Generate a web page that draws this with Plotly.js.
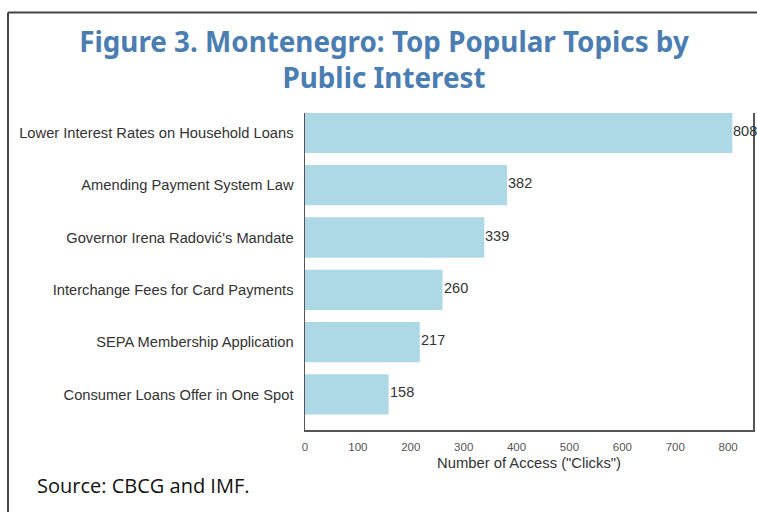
<!DOCTYPE html>
<html>
<head>
<meta charset="utf-8">
<script src="https://cdn.plot.ly/plotly-3.0.1.min.js"></script>
<style>
  html, body { margin: 0; padding: 0; background: #ffffff; }
  #chart { width: 757px; height: 512px; }
</style>
</head>
<body>
<div id="chart"></div>
<script>
// ---- data ----
const topics = [
  "Lower Interest Rates on Household Loans",
  "Amending Payment System Law",
  "Governor Irena Radović's Mandate",
  "Interchange Fees for Card Payments",
  "SEPA Membership Application",
  "Consumer Loans Offer in One Spot"
];
const clicks = [808, 382, 339, 260, 217, 158];
const xTickValues = [0, 100, 200, 300, 400, 500, 600, 700, 800];
const chartTitle = "Figure 3. Montenegro: Top Popular Topics by<br>Public Interest";
const xTitle = 'Number of Access ("Clicks")';
const sourceNote = "Source: CBCG and IMF.";

// ---- layout geometry ----
const W = 757, H = 512;
const L = 305, R = 4, T = 113, B = 82;
const pw = W - L - R, ph = H - T - B;
const px = v => (v - L) / pw;          // pixel x -> paper x
const py = v => (H - B - v) / ph;      // pixel y -> paper y

const trace = {
  type: 'bar',
  orientation: 'h',
  x: clicks,
  y: topics,
  width: 0.77,
  marker: { color: '#add8e6', line: { width: 0 } },
  hoverinfo: 'x+y'
};

const labelAnnotations = clicks.map((v, i) => ({
  x: v, y: topics[i], xref: 'x', yref: 'y',
  text: String(v), showarrow: false,
  xanchor: 'left', yanchor: 'middle', xshift: -1, yshift: 2,
  font: { family: 'Liberation Sans, Arial, sans-serif', size: 14.5, color: '#333333' }
}));

const layout = {
  width: W, height: H,
  margin: { l: L, r: R, t: T, b: B, pad: 0 },
  paper_bgcolor: '#ffffff',
  plot_bgcolor: '#ffffff',
  showlegend: false,
  bargap: 0.2,
  title: {
    text: chartTitle,
    xref: 'container', x: 384 / W, xanchor: 'center',
    yref: 'container', y: 1 - 52 / H, yanchor: 'top',
    font: { family: 'Noto Sans, Open Sans, sans-serif', size: 27.8, color: '#4a7db2', weight: 'bold' }
  },
  xaxis: {
    range: [0, 847],
    tickvals: xTickValues,
    ticks: '',
    showgrid: false,
    zeroline: false,
    showline: true, linecolor: '#555555', linewidth: 1.5,
    mirror: false,
    tickfont: { family: 'Liberation Sans, Arial, sans-serif', size: 11.5, color: '#555555' },
    ticklabelstandoff: 6,
    title: {
      text: xTitle, standoff: 5,
      font: { family: 'Liberation Sans, Arial, sans-serif', size: 14.8, color: '#333333' }
    },
    fixedrange: true
  },
  yaxis: {
    type: 'category',
    range: [5.68, -0.38],
    ticks: '',
    showgrid: false,
    zeroline: false,
    showline: true, linecolor: '#555555', linewidth: 1.5,
    mirror: true,
    tickfont: { family: 'Liberation Sans, Arial, sans-serif', size: 14.7, color: '#333333' },
    ticklabelstandoff: 7,
    fixedrange: true
  },
  shapes: [
    // outer document frame: top and left borders
    { type: 'line', xref: 'paper', yref: 'paper', x0: px(8), x1: px(757), y0: py(12.5), y1: py(12.5),
      line: { color: '#444444', width: 2 } },
    { type: 'line', xref: 'paper', yref: 'paper', x0: px(8), x1: px(8), y0: py(12.5), y1: py(512),
      line: { color: '#444444', width: 2 } }
  ],
  annotations: labelAnnotations.concat([
    {
      xref: 'paper', yref: 'paper', x: px(35), y: py(485),
      xanchor: 'left', yanchor: 'middle', showarrow: false,
      text: sourceNote,
      font: { family: 'Open Sans, Noto Sans, sans-serif', size: 20, color: '#111111' }
    }
  ])
};

Plotly.newPlot('chart', [trace], layout, { displayModeBar: false, staticPlot: true });
</script>
</body>
</html>
